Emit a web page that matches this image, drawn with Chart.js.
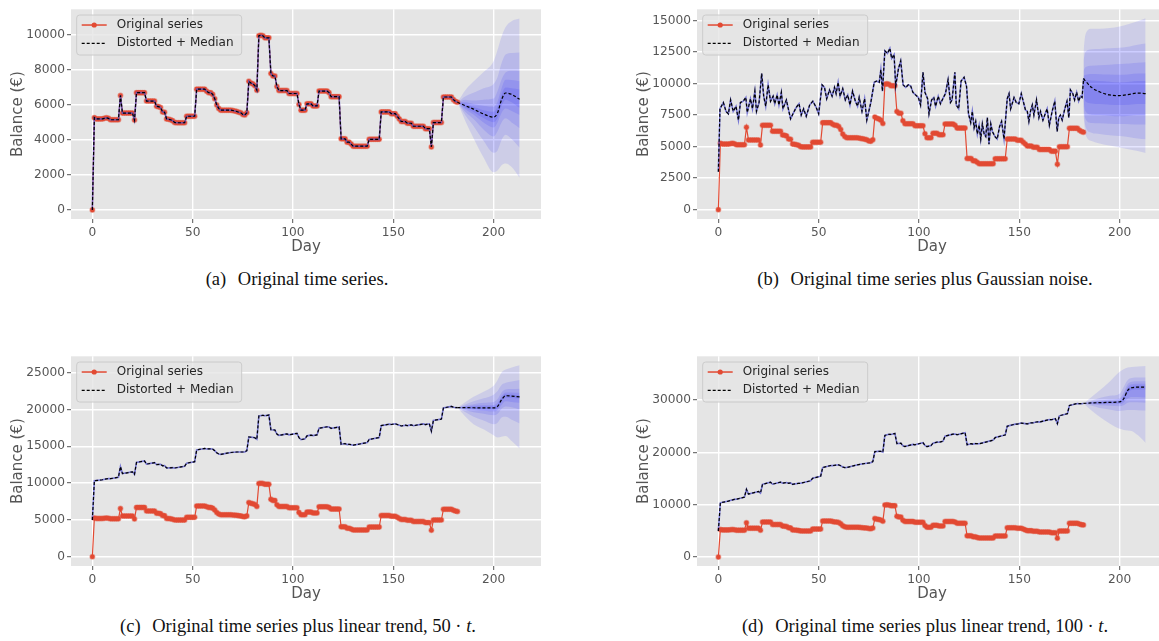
<!DOCTYPE html>
<html><head><meta charset="utf-8">
<script src="https://cdn.jsdelivr.net/npm/chart.js@4.4.1/dist/chart.umd.min.js"></script>
<style>
html,body{margin:0;padding:0;background:#fff;width:1159px;height:641px;overflow:hidden;position:relative}
.panel{position:absolute;width:580px;height:262px}
.cap{position:absolute;font-family:"Liberation Serif","DejaVu Serif",serif;font-size:18.5px;line-height:20px;color:#111;white-space:nowrap;transform:translateX(-50%)}
.cap .lbl{margin-right:7px}
</style></head><body>
<div class="panel" style="left:0;top:0"><canvas id="ca" width="580" height="262"></canvas></div>
<div class="panel" style="left:626px;top:0"><canvas id="cb" width="580" height="262"></canvas></div>
<div class="panel" style="left:0;top:346.7px"><canvas id="cc" width="580" height="262"></canvas></div>
<div class="panel" style="left:626px;top:346.7px"><canvas id="cd" width="580" height="262"></canvas></div>
<div class="cap" style="left:297px;top:269px"><span class="lbl">(a)</span> Original time series.</div>
<div class="cap" style="left:925px;top:269px"><span class="lbl">(b)</span> Original time series plus Gaussian noise.</div>
<div class="cap" style="left:298px;top:616px"><span class="lbl">(c)</span> Original time series plus linear trend, 50 · <i>t</i>.</div>
<div class="cap" style="left:925px;top:616px"><span class="lbl">(d)</span> Original time series plus linear trend, 100 · <i>t</i>.</div>
<script>
// ---------- DATA ----------
const xTicks = [0, 50, 100, 150, 200];
const yTicksA = [0, 2000, 4000, 6000, 8000, 10000];
const yTicksB = [0, 2500, 5000, 7500, 10000, 12500, 15000];
const yTicksC = [0, 5000, 10000, 15000, 20000, 25000];
const yTicksD = [0, 10000, 20000, 30000];

// original daily balance, days 0..182
const original = [
0,5270,5200,5200,5200,5200,5230,5260,5230,5150,5150,5150,5150,5150,6540,5530,5530,5530,5530,5530,
5530,5130,6700,6700,6700,6700,6700,6220,6220,6220,6220,6220,5920,5900,5850,5600,5580,5200,5180,5150,
5100,5000,4980,4980,4980,4980,4980,5350,5350,5350,5350,5350,6900,6900,6900,6900,6900,6780,6700,6700,
6600,6350,6000,5800,5700,5700,5700,5700,5700,5700,5680,5650,5620,5580,5550,5450,5420,5550,7350,7250,
7200,7100,6840,9950,9980,9950,9830,9830,9830,7790,7650,7650,7050,6820,6820,6820,6820,6820,6650,6650,
6650,6650,6650,6020,5700,5700,5700,6060,6060,6060,5940,5940,5940,6790,6790,6790,6790,6790,6700,6470,
6470,6470,6470,6470,4060,4060,4060,3870,3870,3760,3640,3640,3640,3640,3640,3640,3640,3640,4030,4030,
4030,4030,4030,4030,5600,5600,5600,5600,5600,5500,5500,5500,5350,5200,5050,5050,5050,4950,4950,4950,
4780,4780,4780,4780,4780,4780,4640,4640,4640,3600,4990,4990,4990,4990,4990,6450,6450,6450,6450,6450,
6300,6200,6150];

// (b) noisy distorted series
const distBDays = [0,0.8,2.5,3.8,5,6.1,7.4,8.8,10,11,12.4,13.7,14.4,16,17,18.2,19,20.3,21.6,22.6,23.6,24.8,26,27.3,28.1,29.3,30.2,31.4,32.2,33.9,36,37.5,38.8,40.2,41.3,42.5,43.8,45.5,47.1,48.8,50,51.7,52.9,54,55.4,56.7,57.9,58.7,59.7,60.7,62,63.3,64.5,65.6,66.9,68.3,69.4,70.2,71.6,72.9,74,76,77.7,78.8,80.2,81,81.8,83,84.3,85.5,86.4,87.6,88.4,89.8,90.9,92.1,93.4,94.7,95.9,97,98.3,99.7,100.8,102,103,104.3,105,106.3,107.4,108.3,109.6,110.7,111.9,113.2,114.5,115.7,116.5,117.9,118.6,119.8,121,122.5,123.7,124.7,125.8,126.6,127.5,128.3,129.1,130,130.8,131.6,132.5,133.3,134.1,134.9,135.8,136.6,137.9,139,140.2,141.2,142.4,144,144.9,145.7,147.4,148.5,149.8,151,152.3,153.1,154,154.8,155.6,156.5,157.3,158.6,159.8,160.6,161.8,162.7,163.9,165,166.4,167.7,168.9,169.7,170.5,171.4,172.7,173.8,174.7,175.5,176.7,177.6,178.6,179.6,180.5,181.3,182.1];
const distBVals = [3000,8000,8500,7800,7600,8700,7800,8200,7100,8500,8600,8900,7700,8800,8000,9400,7800,8500,10800,9000,8200,9900,8600,9000,8400,9100,8300,9300,8000,8700,7200,7700,8100,8400,7500,8000,7400,8300,8600,8100,7600,9900,9700,8800,9500,9000,9700,9200,10100,9000,9600,8700,9100,8300,9400,8600,8200,8900,7800,8800,7100,8500,10100,10200,10100,11100,9400,12600,12400,12800,12000,12300,9800,11200,11800,9900,9700,9900,9800,9300,9100,8900,8300,10900,9300,8800,7600,8700,8900,8200,9000,8400,8800,9200,10300,8500,8700,10900,8300,8000,10200,10500,9800,7600,6900,7800,6500,7000,6000,6700,5600,6800,6000,5800,7300,5200,6800,6200,5800,5600,6600,7000,5600,8800,9200,8000,8900,8500,8400,9200,8400,7900,7800,7000,7800,8300,7500,8700,7300,7800,7100,7500,8000,6700,7800,8600,6200,7300,7500,7100,8000,8600,7300,9500,9200,8700,9300,8600,9000,8900,10400];

// (c),(d) distorted series vertices (day, value)
const distCDDays = [0,1,5,8,9,13,14,15,20,21,22,26,27,31,32,34,35,36,37,40,41,46,47,51,52,56,57,59,60,61,62,63,64,69,72,76,77,78,80,81,82,83,85,86,88,89,91,92,93,97,98,102,103,104,106,107,109,110,112,113,117,118,119,123,124,126,127,128,129,130,137,138,143,144,148,149,151,152,153,154,156,157,159,160,165,166,168,169,170,174,175,179,180,181,182];
const distCVals = [5000,10320,10450,10630,10600,10800,12240,11280,11530,11180,12800,13000,12570,12770,12520,12550,12350,12380,12050,12100,12050,12280,12700,12900,14500,14700,14630,14650,14600,14400,14100,13950,13900,14150,14220,14220,14400,16250,16200,16150,15940,19100,19200,19130,19230,17240,17200,16650,16470,16670,16550,16750,16170,15900,16000,16410,16510,16440,16540,17440,17640,17600,17420,17620,15260,15360,15220,15270,15210,15140,15490,15930,16180,17800,18000,17950,18050,17950,17850,17750,17850,17800,17900,17780,18030,17940,18040,17050,18490,18690,20200,20400,20300,20250,20250];
const distDVals = [5000,10370,10700,11030,11050,11450,12940,12030,12530,12230,13900,14300,13920,14320,14120,14250,14100,14180,13900,14100,14100,14580,15050,15450,17100,17500,17480,17600,17600,17450,17200,17100,17100,17600,17820,18020,18250,20150,20200,20200,20040,23250,23450,23430,23630,21690,21750,21250,21120,21520,21450,21850,21320,21100,21300,21760,21960,21940,22140,23090,23490,23500,23370,23770,21460,21660,21570,21670,21660,21640,22340,22830,23330,25000,25400,25400,25600,25550,25500,25450,25650,25650,25850,25780,26280,26240,26440,25500,26990,27390,28950,29350,29300,29300,29350];

// forecasts: median and nested prediction bands (upper, lower), outermost first
const fcDaysA = [182,186,190,195,200,202,204,206,209,213];
const medianA = [6150,5950,5760,5480,5300,5550,6300,6680,6600,6320];
const bandsA = [
 [[6150,6850,7330,7880,8500,9150,9900,10450,10780,10930],[6150,5050,4100,3000,2150,2250,2550,2650,2450,1830]],
 [[6150,6500,6700,6950,7200,7600,8400,8880,8970,9000],[6150,5400,4800,3950,3270,3400,4000,4300,4050,3550]],
 [[6150,6300,6250,6300,6360,6800,7450,7850,7950,7940],[6150,5600,5200,4600,4200,4500,5000,5230,5000,4670]],
 [[6150,6150,6050,5950,5890,6200,6950,7440,7420,7350],[6150,5750,5450,5000,4710,5000,5550,5790,5650,5420]],
 [[6150,6050,5900,5700,5610,5900,6600,7000,6950,6880],[6150,5850,5600,5250,5010,5250,5950,6300,6150,5830]]
];
const fcDaysB = [182,183,186,190,195,200,205,209,213];
const medianB = [10400,10200,9700,9350,9100,9050,9150,9250,9200];
const bandsB = [
 [[12500,13900,14350,14350,14400,14530,14750,14950,15180],[7500,6000,5450,5250,5080,4930,4780,4650,4490]],
 [[11800,12500,12720,12750,12800,12850,12950,13080,13180],[7800,6600,6100,6000,5900,5840,5750,5650,5580]],
 [[11000,11300,11420,11450,11500,11550,11600,11650,11700],[8200,7200,6880,6850,6820,6800,6780,6760,6750]],
 [[10600,10700,10770,10750,10720,10700,10750,10800,10800],[8600,7800,7530,7500,7450,7400,7450,7500,7500]],
 [[10400,10300,10250,10200,10150,10100,10150,10200,10200],[9000,8600,8430,8380,8330,8300,8330,8380,8380]]
];
const fcDaysC = [182,186,190,195,200,202,204,206,209,213];
const medianC = [20250,20230,20220,20200,20200,20400,21300,21850,21800,21700];
const bandsC = [
 [[20250,21000,21700,22400,23200,24000,25000,25400,25700,26000],[20250,19000,18000,17300,16500,16200,16300,16400,15700,14700]],
 [[20250,20700,21100,21500,22000,22500,23300,23600,23800,24000],[20250,19600,19000,18500,18000,18200,18900,19000,18600,18100]],
 [[20250,20500,20700,20900,21000,21400,22300,22700,22750,22800],[20250,19900,19600,19400,19200,19400,20100,20400,20300,20000]],
 [[20250,20400,20500,20550,20600,20900,21800,22300,22300,22250],[20250,20050,19900,19800,19700,19900,20600,21100,21000,20900]],
 [[20250,20300,20350,20400,20400,20650,21550,22050,22000,21950],[20250,20150,20100,20000,20000,20150,21050,21600,21550,21450]]
];
const fcDaysD = [182,186,190,195,200,202,204,206,209,213];
const medianD = [29350,29450,29500,29550,29650,30200,31800,32350,32450,32450];
const bandsD = [
 [[29350,30600,31800,33500,35400,35900,36200,36300,36400,36500],[29350,28000,26800,25500,24500,24300,24200,24100,23300,21800]],
 [[29350,29900,30400,30800,31200,32500,33800,34200,34300,34300],[29350,28900,28500,28200,27900,28000,28100,28100,28050,28000]],
 [[29350,29650,29900,30100,30300,31400,33000,33500,33600,33600],[29350,29200,29000,28900,28800,29000,29500,29600,29600,29500]],
 [[29350,29550,29700,29800,29950,30800,32500,33000,33100,33100],[29350,29300,29250,29250,29250,29500,30300,30600,30600,30500]],
 [[29350,29500,29600,29650,29800,30500,32100,32650,32750,32750],[29350,29400,29400,29450,29500,29900,31300,31900,32000,32000]]
];

// ---------- RENDERING ----------
Chart.defaults.font.family = "'DejaVu Sans', sans-serif";
Chart.defaults.animation = false;
const RED = '#E24A33';
const TXT = '#555555';

const bgPlugin = {id:'bg', beforeDraw(chart){
  const {ctx, chartArea:a} = chart;
  ctx.save(); ctx.fillStyle = '#E5E5E5';
  ctx.fillRect(a.left, a.top, a.right - a.left, a.bottom - a.top);
  ctx.restore();
}};
const legendPlugin = {id:'lg', afterDraw(chart){
  const {ctx, chartArea:a} = chart;
  const x = a.left + 5.7, y = a.top + 5.7, w = 165, h = 40, r = 3;
  ctx.save();
  ctx.beginPath();
  ctx.moveTo(x + r, y); ctx.lineTo(x + w - r, y); ctx.quadraticCurveTo(x + w, y, x + w, y + r);
  ctx.lineTo(x + w, y + h - r); ctx.quadraticCurveTo(x + w, y + h, x + w - r, y + h);
  ctx.lineTo(x + r, y + h); ctx.quadraticCurveTo(x, y + h, x, y + h - r);
  ctx.lineTo(x, y + r); ctx.quadraticCurveTo(x, y, x + r, y); ctx.closePath();
  ctx.fillStyle = 'rgba(229,229,229,0.8)'; ctx.fill();
  ctx.strokeStyle = '#cccccc'; ctx.lineWidth = 1; ctx.stroke();
  const y1 = y + 10, y2 = y + 28.3;
  ctx.strokeStyle = RED; ctx.lineWidth = 1.5;
  ctx.beginPath(); ctx.moveTo(x + 5, y1); ctx.lineTo(x + 30, y1); ctx.stroke();
  ctx.fillStyle = RED; ctx.beginPath(); ctx.arc(x + 17.5, y1, 2.6, 0, Math.PI * 2); ctx.fill();
  ctx.strokeStyle = '#000'; ctx.lineWidth = 1.2; ctx.setLineDash([3, 2]);
  ctx.beginPath(); ctx.moveTo(x + 5, y2); ctx.lineTo(x + 30, y2); ctx.stroke();
  ctx.setLineDash([]);
  ctx.fillStyle = '#262626'; ctx.font = "12px 'DejaVu Sans'"; ctx.textBaseline = 'middle'; ctx.textAlign = 'left';
  ctx.fillText('Original series', x + 40, y1);
  ctx.fillText('Distorted + Median', x + 40, y2);
  ctx.restore();
}};

function pts(xs, ys){ return ys.map((v, i) => ({x: xs[i], y: v})); }

function makePanel(id, p){
  const origDays = original.map((_, i) => i);
  const ds = [];
  ds.push({data: pts(p.fcDays, p.median), borderColor:'#000', borderWidth:1.2, borderDash:[3,2], pointRadius:0, fill:false, cubicInterpolationMode:'monotone', order:0});
  ds.push({data: pts(p.distDays, p.distVals), borderColor:'#000', borderWidth:1.2, borderDash:[3,2], pointRadius:0, fill:false, order:1});
  ds.push({data: pts(p.distDays, p.distVals), borderColor:'rgba(80,80,205,0.75)', borderWidth:1.6, pointRadius:0, fill:false, order:2});
  ds.push({data: pts(origDays, original), borderColor:RED, borderWidth:1.2, pointRadius:2.3, pointBackgroundColor:RED, pointBorderColor:'rgba(226,74,51,0.45)', pointBorderWidth:1.4, fill:false, order:3});
  p.bands.forEach((b, k) => {
    const li = ds.length;
    ds.push({data: pts(p.fcDays, b[1]), borderWidth:0, borderColor:'rgba(0,0,0,0)', pointRadius:0, fill:false, cubicInterpolationMode:'monotone', order:10 + 2*k});
    ds.push({data: pts(p.fcDays, b[0]), borderWidth:0, borderColor:'rgba(0,0,0,0)', pointRadius:0, fill:li, backgroundColor:'rgba(0,0,255,0.1)', cubicInterpolationMode:'monotone', order:11 + 2*k});
  });
  new Chart(document.getElementById(id), {
    type:'line',
    data:{datasets:ds},
    options:{
      responsive:false, animation:false, events:[],
      layout:{padding:{left:9.2, top:6, right:39, bottom:6}},
      plugins:{legend:{display:false}, tooltip:{enabled:false}},
      scales:{
        x:{type:'linear', min:-10.65, max:223.65,
           afterBuildTicks:s => { s.ticks = xTicks.map(v => ({value:v})); },
           afterFit:s => { s.height = 37; },
           grid:{color:'#ffffff', lineWidth:1.4, tickColor:TXT, tickLength:4, tickWidth:1},
           border:{display:false},
           ticks:{color:TXT, font:{size:12.2}, padding:3, maxRotation:0, callback:v => String(v)},
           title:{display:true, text:'Day', color:TXT, font:{size:15}, padding:0}},
        y:{type:'linear', min:p.yMin, max:p.yMax,
           afterBuildTicks:s => { s.ticks = p.yTicks.map(v => ({value:v})); },
           afterFit:s => { s.width = 61.8; },
           grid:{color:'#ffffff', lineWidth:1.4, tickColor:TXT, tickLength:4, tickWidth:1},
           border:{display:false},
           ticks:{color:TXT, font:{size:12.2}, padding:2, callback:v => String(v)},
           title:{display:true, text:'Balance (€)', color:TXT, font:{size:15}, padding:0}}
      }
    },
    plugins:[bgPlugin, legendPlugin]
  });
}

makePanel('ca', {yMin:-520, yMax:11460, yTicks:yTicksA, distDays:original.map((_, i) => i), distVals:original, fcDays:fcDaysA, median:medianA, bands:bandsA});
makePanel('cb', {yMin:-740, yMax:15890, yTicks:yTicksB, distDays:distBDays, distVals:distBVals, fcDays:fcDaysB, median:medianB, bands:bandsB});
makePanel('cc', {yMin:-1250, yMax:27200, yTicks:yTicksC, distDays:distCDDays, distVals:distCVals, fcDays:fcDaysC, median:medianC, bands:bandsC});
makePanel('cd', {yMin:-1700, yMax:38350, yTicks:yTicksD, distDays:distCDDays, distVals:distDVals, fcDays:fcDaysD, median:medianD, bands:bandsD});
</script>
</body></html>
